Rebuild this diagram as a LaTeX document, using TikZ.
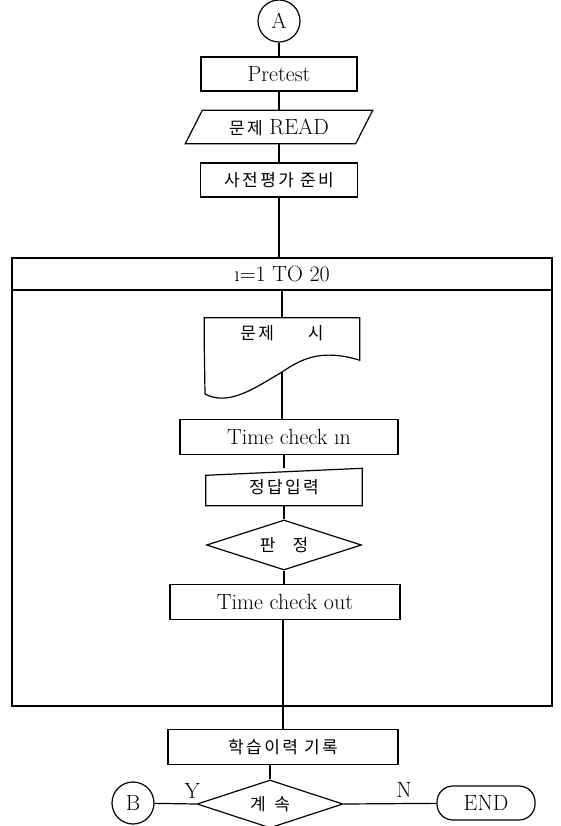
\documentclass[tikz,border=0pt]{standalone}
\usepackage{fontspec}
\newfontfamily\kr[LetterSpace=14]{Noto Sans CJK KR}
\usetikzlibrary{shapes.geometric}
\begin{document}
\begin{tikzpicture}[x=1pt,y=-1pt,
  every node/.style={font=\fontsize{22}{26}\selectfont\addfontfeatures{LetterSpace=5}},
  box/.style={draw, line width=1.2pt, rectangle, inner sep=0pt, minimum height=35pt},
  blank/.style={draw=none, inner sep=0pt},
  shp/.style={line width=1.2pt},
  con/.style={line width=1.2pt},
  conn/.style={draw, line width=1.2pt, circle, inner sep=0pt, minimum size=42pt},
  dia/.style={draw, line width=1.2pt, diamond, aspect=3, inner sep=0pt},
  krt/.style={font=\fontsize{17}{20}\selectfont\kr}
]
\useasboundingbox (0,0) rectangle (560,826);
% top part
\node[conn] (A) at (279,21) {A};
\node[box, minimum width=156pt, minimum height=34pt] (pre) at (279,74) {Pretest};
\node[blank, minimum width=187pt, minimum height=33pt] (read) at (279,127) {{\fontsize{17}{20}\selectfont\kr 문제} READ};
\draw[shp] ([xshift=17pt]read.north west) -- (read.north east) -- ([xshift=-17pt]read.south east) -- (read.south west) -- cycle;
\node[box, krt, minimum width=157pt, minimum height=34pt] (prep) at (279,180) {사전평가 준비};
% loop
\node[box, minimum width=540pt, minimum height=448pt] (loop) at (282,482) {};
\node[box, minimum width=540pt, minimum height=32pt, anchor=north] (hdr) at (loop.north) {\i=1 TO 20};
% document
\node[blank, krt, minimum width=155pt, minimum height=30pt] (doc) at (282,333) {문제\qquad 시};
\draw[shp] (doc.south west) -- (doc.north west) -- (doc.north east) -- ([yshift=-12pt]doc.south east)
  .. controls (320,348) and (300,360) .. (282,372)
  .. controls (252,390) and (228,406) .. (205,394) -- cycle;
\coordinate (docb) at (282,372);
\node[box, minimum width=218pt, minimum height=35pt] (tci) at (289,437) {Time check \i n};
\node[blank, krt, minimum width=156pt, minimum height=37pt] (jd) at (284,487) {정답입력};
\draw[shp] (jd.south west) -- ([yshift=-7pt]jd.north west) -- (jd.north east) -- (jd.south east) -- cycle;
\node[dia, krt, minimum width=155pt, minimum height=50pt] (pj) at (284,545) {판\quad 정};
\node[box, minimum width=230pt, minimum height=35pt] (tco) at (285,602) {Time check out};
% after loop
\node[box, krt, minimum width=230pt, minimum height=35pt] (learn) at (283,747) {학습이력 기록};
\node[dia, krt, minimum width=146pt, minimum height=48pt] (cont) at (270,804) {계\enspace 속};
\node[conn] (B) at (133,803) {B};
\node[draw, line width=1.2pt, rounded corners=16pt, minimum width=98pt, minimum height=34pt, inner sep=0pt] (end) at (486,803) {END};
% connectors
\draw[con] (A) -- (pre);
\draw[con] (pre) -- (read.north);
\draw[con] (read.south) -- (prep);
\draw[con] (prep) -- (prep |- loop.north);
\draw[con] (doc.north |- hdr.south) -- (doc.north);
\draw[con] (docb) -- (docb |- tci.north);
\draw[con] (jd.north |- tci.south) -- (jd.north);
\draw[con] (jd.south) -- (pj.north);
\draw[con] (pj.south) -- (pj.south |- tco.north);
\draw[con] (tco.south -| learn.north) -- (learn.north |- loop.south) -- (learn.north);
\draw[con] (cont.north |- learn.south) -- (cont.north);
\draw[con] (cont.west) -- node[pos=0.1, above=2pt] {Y} (B);
\draw[con] (cont.east) -- node[pos=0.65, above=2pt] {N} (end);
\end{tikzpicture}
\end{document}
